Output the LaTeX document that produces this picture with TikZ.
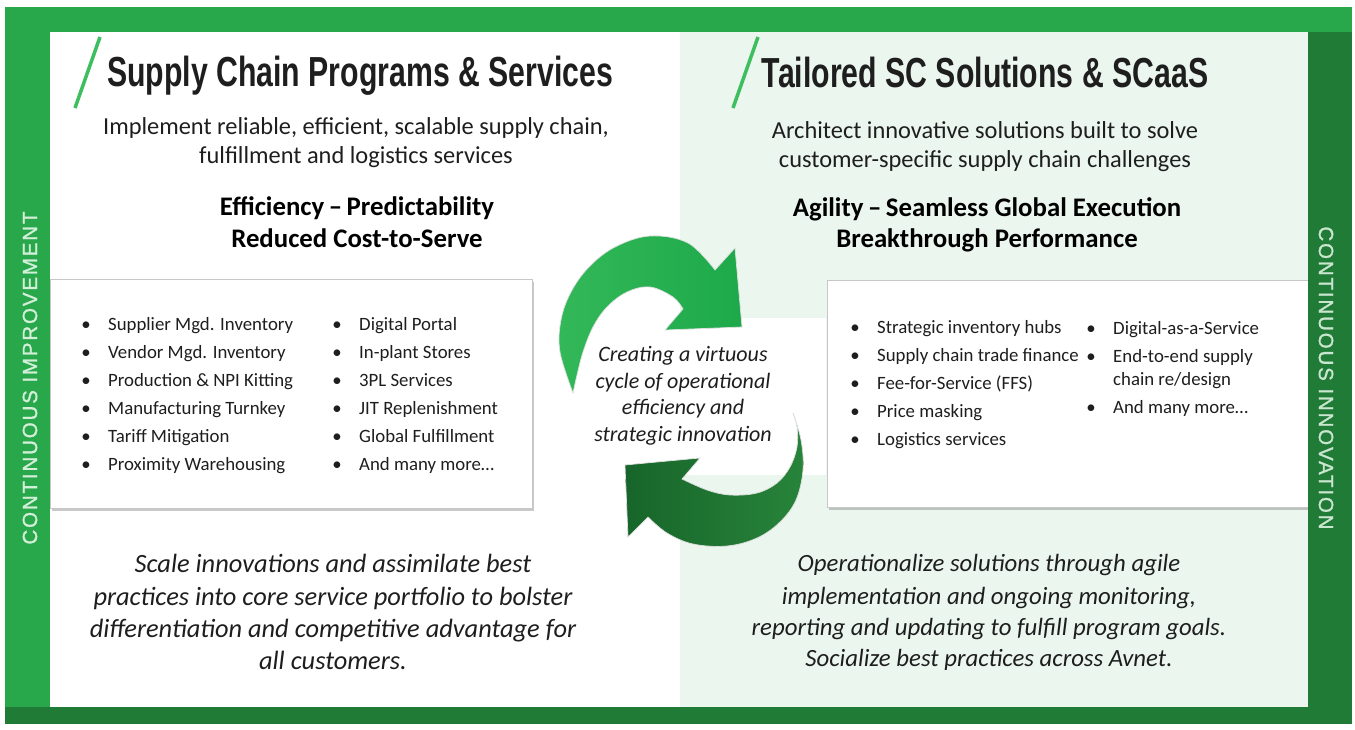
\documentclass[tikz,border=0pt]{standalone}
\usepackage{fontspec}
\setmainfont{Carlito}
\newfontfamily\titlefont[FakeStretch=0.72]{Liberation Sans}
\newfontfamily\sidefont[LetterSpace=9, FakeBold=1.2]{Liberation Sans}
\usetikzlibrary{shadows}

\definecolor{gLight}{HTML}{28A84A}
\definecolor{gDark}{HTML}{1F7B35}
\definecolor{panel}{HTML}{EBF6EE}
\definecolor{slash}{HTML}{3DBF60}
\definecolor{ink}{HTML}{1E1E1E}
\definecolor{sideL}{HTML}{D3EFD9}
\definecolor{sideR}{HTML}{CBE6D0}
\definecolor{arrTopA}{HTML}{33B858}
\definecolor{arrTopB}{HTML}{1DA94A}
\definecolor{arrBotA}{HTML}{17652A}
\definecolor{arrBotB}{HTML}{28843A}

\begin{document}
\begin{tikzpicture}[x=1pt,y=-1pt,
  title/.style={font=\titlefont\bfseries\fontsize{42}{42}\selectfont, text=ink, anchor=base, inner sep=0},
  sub/.style={font=\fontsize{24.4}{24.4}\selectfont, text=ink, anchor=base, inner sep=0},
  keyline/.style={font=\bfseries\fontsize{26.8}{26.8}\selectfont, text=black, anchor=base, inner sep=0},
  item/.style={font=\fontsize{18.8}{18.8}\selectfont, text=ink, anchor=base west, inner sep=0},
  dot/.style={font=\fontsize{18.8}{18.8}\selectfont, text=ink, anchor=base, inner sep=0},
  cyc/.style={font=\itshape\fontsize{22}{22}\selectfont, text=ink, anchor=base, inner sep=0},
  storyL/.style={font=\itshape\fontsize{26.4}{26.4}\selectfont, text=ink, anchor=base, inner sep=0},
  storyR/.style={font=\itshape\fontsize{24.8}{24.8}\selectfont, text=ink, anchor=base, inner sep=0},
  side/.style={font=\sidefont\fontsize{20.5}{20.5}\selectfont, inner sep=0},
  listbox/.style={fill=white, draw=black!22, line width=0.8pt,
    drop shadow={shadow xshift=2pt, shadow yshift=-2.5pt, opacity=0.35, fill=black!60}},
  slashline/.style={draw=slash, line width=3.5pt},
  cycarrow/.style={draw=black!12, line width=0.7pt},
]

% page and panels
\fill[white] (0,0) rectangle (1355,729);
\fill[panel] (680,32) rectangle (1308,707);
\fill[white] (680,318) rectangle (826,475);

% list boxes
\path[listbox] (50,279) rectangle (532,508);
\path[listbox] (827,280) rectangle (1308,507);

% frame bars
\fill[gLight] (5,7) rectangle (1352,32);
\fill[gLight] (5,32) rectangle (50,707);
\fill[gDark] (1308,32) rectangle (1352,724);
\fill[gDark] (5,707) rectangle (1352,724);

% side captions
\node[side, text=sideL, rotate=90] (capL) at (30,378) {CONTINUOUS IMPROVEMENT};
\node[side, text=sideR, rotate=-90] (capR) at (1326,378) {CONTINUOUS INNOVATION};

% title slashes
\draw[slashline] (100,37) -- (75,108);
\draw[slashline] (758,37) -- (733,108);

% headings
\node[title] (t1) at (360,86) {Supply Chain Programs \& Services};
\node[title] (t2) at (985,87) {Tailored SC Solutions \& SCaaS};

\node[sub] (s1a) at (356,134) {Implement reliable, efficient, scalable supply chain,};
\node[sub] (s1b) at (356,163) {fulfillment and logistics services};
\node[sub] (s2a) at (985,138) {Architect innovative solutions built to solve};
\node[sub] (s2b) at (985,167) {customer-specific supply chain challenges};

\node[keyline] (k1a) at (357,215) {Efficiency\,–\,Predictability};
\node[keyline] (k1b) at (357,247) {Reduced Cost-to-Serve};
\node[keyline] (k2a) at (987,216) {Agility\,–\,Seamless Global Execution};
\node[keyline] (k2b) at (987,247) {Breakthrough Performance};

% left list
\foreach \t [count=\i] in {Supplier Mgd. Inventory, Vendor Mgd. Inventory,
    Production \& NPI Kitting, Manufacturing Turnkey, Tariff Mitigation,
    Proximity Warehousing} {
  \node[dot] (lb\i) at (86,{302+28*\i}) {•};
  \node[item] (la\i) at (108,{302+28*\i}) {\t};
}
\foreach \t [count=\i] in {Digital Portal, In-plant Stores, 3PL Services,
    JIT Replenishment, Global Fulfillment, And many more…} {
  \node[dot] (mb\i) at (337,{302+28*\i}) {•};
  \node[item] (ma\i) at (359,{302+28*\i}) {\t};
}

% right list
\foreach \t [count=\i] in {Strategic inventory hubs, Supply chain trade finance,
    Fee-for-Service (FFS), Price masking, Logistics services} {
  \node[dot] (rb\i) at (855,{305+28*\i}) {•};
  \node[item] (ra\i) at (877,{305+28*\i}) {\t};
}
\node[dot] (sb1) at (1091,334) {•};
\node[item] (sa1) at (1113,334) {Digital-as-a-Service};
\node[dot] (sb2) at (1091,362) {•};
\node[item] (sa2) at (1113,362) {End-to-end supply};
\node[item] (sa3) at (1113,385) {chain re/design};
\node[dot] (sb4) at (1091,413) {•};
\node[item] (sa4) at (1113,413) {And many more…};

% cycle arrows
\shadedraw[cycarrow, left color=arrTopA, right color=arrTopB]
  plot[smooth, tension=0.6] coordinates {(573,393) (560,352) (561,320) (571,292)
    (589,267) (615,247) (650,236) (688,243) (715,270)}
  -- (735,248) -- (742,327) -- (665,330) -- (683,309)
  -- plot[smooth, tension=0.6] coordinates {(683,309) (673,297) (650,287) (627,292)
    (607,307) (593,327) (583,352) (577,375) (573,393)}
  -- cycle;
\shadedraw[cycarrow, left color=arrBotA, right color=arrBotB]
  plot[smooth, tension=0.6] coordinates {(793,413) (801,440) (803,470) (796,500)
    (780,522) (757,538) (727,546) (693,544) (667,533) (648,517)}
  -- (628,537) -- (625,465) -- (700,458) -- (682,479)
  -- plot[smooth, tension=0.6] coordinates {(682,479) (707,490) (730,495) (757,493)
    (777,483) (790,467) (797,447) (797,427) (793,413)}
  -- cycle;

\node[cyc] (c1) at (683,361) {Creating a virtuous};
\node[cyc] (c2) at (683,388) {cycle of operational};
\node[cyc] (c3) at (683,414) {efficiency and};
\node[cyc] (c4) at (683,441) {strategic innovation};

% closing statements
\node[storyL] (b1) at (333,572) {Scale innovations and assimilate best};
\node[storyL] (b2) at (333,605) {practices into core service portfolio to bolster};
\node[storyL] (b3) at (333,637) {differentiation and competitive advantage for};
\node[storyL] (b4) at (333,669) {all customers.};

\node[storyR] (d1) at (989,571) {Operationalize solutions through agile};
\node[storyR] (d2) at (989,604) {implementation and ongoing monitoring,};
\node[storyR] (d3) at (989,635) {reporting and updating to fulfill program goals.};
\node[storyR] (d4) at (989,666) {Socialize best practices across Avnet.};

\end{tikzpicture}
\end{document}
